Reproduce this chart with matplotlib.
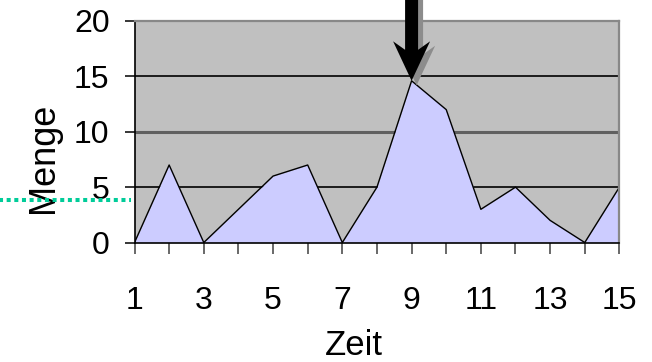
import numpy as np
import matplotlib
matplotlib.use('Agg')
from matplotlib import pyplot as plt
from matplotlib.patches import Polygon
from matplotlib.transforms import IdentityTransform, blended_transform_factory

plt.rcParams['font.family'] = ['Liberation Sans', 'DejaVu Sans']

# data
zeit = np.arange(1, 16)
menge = [0, 7, 0, 3, 6, 7, 0, 5, 14.6, 12, 3, 5, 2, 0, 5]
x_labels = [1, 3, 5, 7, 9, 11, 13, 15]
y_ticks = [0, 5, 10, 15, 20]
marker_level = 3.85   # green dotted line on the left
arrow_at = 9          # arrow points to this Zeit value

fig = plt.figure(figsize=(6.52, 3.62), dpi=100)
ax = fig.add_axes([0.2063, 0.330, 0.7437, 0.612])
ax.set_facecolor('#C0C0C0')

ax.fill_between(zeit, menge, 0, color='#CCCCFF', lw=0, zorder=1)
ax.plot(zeit, menge, color='black', lw=1.0, zorder=2)

ax.set_xlim(1, 15)
ax.set_ylim(0, 20)
ax.set_xticks(zeit)
ax.set_xticklabels([str(v) if v in x_labels else '' for v in zeit])
ax.set_yticks(y_ticks)

ax.set_axisbelow(True)
ax.grid(axis='y', color='black', lw=1.2)
grid_lines = ax.get_ygridlines()
grid_lines[2].set_color('#606060')
grid_lines[2].set_linewidth(2.2)
grid_lines[0].set_visible(False)
grid_lines[-1].set_visible(False)

for side in ['top', 'right']:
    ax.spines[side].set_color('#888888')
    ax.spines[side].set_linewidth(1.6)
for side in ['left', 'bottom']:
    ax.spines[side].set_color('black')
    ax.spines[side].set_linewidth(1.2)

ax.tick_params(axis='x', direction='out', length=8, width=1.1, color='#404040', pad=23, labelsize=23)
ax.tick_params(axis='y', direction='out', length=7.5, width=1.1, color='black', pad=10.5, labelsize=23)

ax.set_xlabel('Zeit', fontsize=25)
ax.xaxis.set_label_coords(0.4526, -0.506)
ax.xaxis.label.set_verticalalignment('baseline')
ax.set_ylabel('Menge', fontsize=26)
ax.yaxis.set_label_coords(-0.168, 0.3815)
ax.yaxis.label.set_verticalalignment('baseline')

# green dotted marker line left of the axis
trans = blended_transform_factory(ax.transAxes, ax.transData)
ax.plot([-0.28, -0.008], [marker_level, marker_level], transform=trans, clip_on=False,
        color='#00CC99', lw=2.9, linestyle=(0, (1.0, 0.9)), solid_capstyle='butt',
        dash_capstyle='butt', zorder=5)

# big arrow pointing down at the peak (shape in pixels around the tip)
tip_x, tip_y = ax.transData.transform((arrow_at, menge[arrow_at - 1]))
shape = np.array([[0, 0], [18.5, 39.5], [6.5, 31], [6.5, 120],
                  [-6.5, 120], [-6.5, 31], [-18.5, 39.5]])
shadow = Polygon(shape + [tip_x + 5, tip_y - 4.5], closed=True, transform=IdentityTransform(),
                 facecolor='#8C8C8C', edgecolor='none', clip_on=False, zorder=6)
arrow = Polygon(shape + [tip_x, tip_y], closed=True, transform=IdentityTransform(),
                facecolor='black', edgecolor='none', clip_on=False, zorder=7)
fig.patches.append(shadow)
fig.patches.append(arrow)
shadow.set_figure(fig)
arrow.set_figure(fig)

fig.savefig('out.png', dpi=100)
